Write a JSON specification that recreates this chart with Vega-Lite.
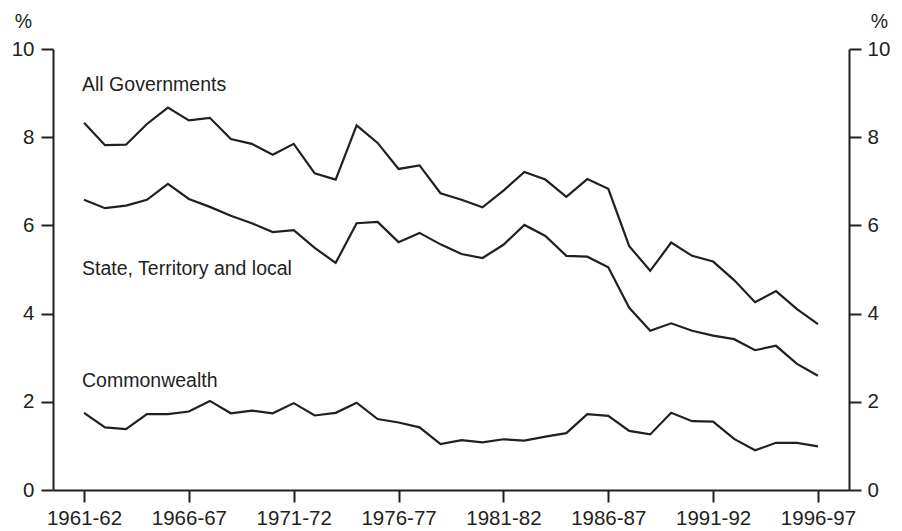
{
  "$schema": "https://vega.github.io/schema/vega-lite/v6.json",
  "width": 796,
  "height": 441,
  "autosize": {"type": "none"},
  "padding": {"left": 53, "top": 49, "right": 53, "bottom": 41},
  "background": "white",
  "config": {
    "view": {"stroke": null},
    "font": "Liberation Sans",
    "axis": {
      "domainColor": "#231f20",
      "domainWidth": 2,
      "tickColor": "#231f20",
      "tickWidth": 2,
      "tickSize": 12,
      "labelFont": "Liberation Sans",
      "labelFontSize": 20.5,
      "labelColor": "#231f20",
      "grid": false,
      "titleFont": "Liberation Sans",
      "titleFontSize": 19.5,
      "titleFontWeight": "normal",
      "titleColor": "#231f20"
    }
  },
  "datasets": {
    "series": [
      {"year": 1961, "series": "All Governments", "value": 8.33},
      {"year": 1962, "series": "All Governments", "value": 7.82},
      {"year": 1963, "series": "All Governments", "value": 7.83},
      {"year": 1964, "series": "All Governments", "value": 8.30},
      {"year": 1965, "series": "All Governments", "value": 8.67},
      {"year": 1966, "series": "All Governments", "value": 8.38},
      {"year": 1967, "series": "All Governments", "value": 8.44},
      {"year": 1968, "series": "All Governments", "value": 7.96},
      {"year": 1969, "series": "All Governments", "value": 7.85},
      {"year": 1970, "series": "All Governments", "value": 7.60},
      {"year": 1971, "series": "All Governments", "value": 7.85},
      {"year": 1972, "series": "All Governments", "value": 7.18},
      {"year": 1973, "series": "All Governments", "value": 7.04},
      {"year": 1974, "series": "All Governments", "value": 8.27},
      {"year": 1975, "series": "All Governments", "value": 7.87},
      {"year": 1976, "series": "All Governments", "value": 7.28},
      {"year": 1977, "series": "All Governments", "value": 7.36},
      {"year": 1978, "series": "All Governments", "value": 6.73},
      {"year": 1979, "series": "All Governments", "value": 6.58},
      {"year": 1980, "series": "All Governments", "value": 6.41},
      {"year": 1981, "series": "All Governments", "value": 6.79},
      {"year": 1982, "series": "All Governments", "value": 7.21},
      {"year": 1983, "series": "All Governments", "value": 7.04},
      {"year": 1984, "series": "All Governments", "value": 6.65},
      {"year": 1985, "series": "All Governments", "value": 7.05},
      {"year": 1986, "series": "All Governments", "value": 6.83},
      {"year": 1987, "series": "All Governments", "value": 5.53},
      {"year": 1988, "series": "All Governments", "value": 4.97},
      {"year": 1989, "series": "All Governments", "value": 5.61},
      {"year": 1990, "series": "All Governments", "value": 5.31},
      {"year": 1991, "series": "All Governments", "value": 5.18},
      {"year": 1992, "series": "All Governments", "value": 4.76},
      {"year": 1993, "series": "All Governments", "value": 4.26},
      {"year": 1994, "series": "All Governments", "value": 4.51},
      {"year": 1995, "series": "All Governments", "value": 4.10},
      {"year": 1996, "series": "All Governments", "value": 3.76},
      {"year": 1961, "series": "State, Territory and local", "value": 6.58},
      {"year": 1962, "series": "State, Territory and local", "value": 6.39},
      {"year": 1963, "series": "State, Territory and local", "value": 6.45},
      {"year": 1964, "series": "State, Territory and local", "value": 6.58},
      {"year": 1965, "series": "State, Territory and local", "value": 6.94},
      {"year": 1966, "series": "State, Territory and local", "value": 6.60},
      {"year": 1967, "series": "State, Territory and local", "value": 6.42},
      {"year": 1968, "series": "State, Territory and local", "value": 6.22},
      {"year": 1969, "series": "State, Territory and local", "value": 6.05},
      {"year": 1970, "series": "State, Territory and local", "value": 5.85},
      {"year": 1971, "series": "State, Territory and local", "value": 5.89},
      {"year": 1972, "series": "State, Territory and local", "value": 5.49},
      {"year": 1973, "series": "State, Territory and local", "value": 5.15},
      {"year": 1974, "series": "State, Territory and local", "value": 6.05},
      {"year": 1975, "series": "State, Territory and local", "value": 6.08},
      {"year": 1976, "series": "State, Territory and local", "value": 5.62},
      {"year": 1977, "series": "State, Territory and local", "value": 5.83},
      {"year": 1978, "series": "State, Territory and local", "value": 5.57},
      {"year": 1979, "series": "State, Territory and local", "value": 5.35},
      {"year": 1980, "series": "State, Territory and local", "value": 5.26},
      {"year": 1981, "series": "State, Territory and local", "value": 5.56},
      {"year": 1982, "series": "State, Territory and local", "value": 6.01},
      {"year": 1983, "series": "State, Territory and local", "value": 5.76},
      {"year": 1984, "series": "State, Territory and local", "value": 5.31},
      {"year": 1985, "series": "State, Territory and local", "value": 5.29},
      {"year": 1986, "series": "State, Territory and local", "value": 5.05},
      {"year": 1987, "series": "State, Territory and local", "value": 4.13},
      {"year": 1988, "series": "State, Territory and local", "value": 3.61},
      {"year": 1989, "series": "State, Territory and local", "value": 3.78},
      {"year": 1990, "series": "State, Territory and local", "value": 3.61},
      {"year": 1991, "series": "State, Territory and local", "value": 3.50},
      {"year": 1992, "series": "State, Territory and local", "value": 3.42},
      {"year": 1993, "series": "State, Territory and local", "value": 3.17},
      {"year": 1994, "series": "State, Territory and local", "value": 3.27},
      {"year": 1995, "series": "State, Territory and local", "value": 2.86},
      {"year": 1996, "series": "State, Territory and local", "value": 2.59},
      {"year": 1961, "series": "Commonwealth", "value": 1.75},
      {"year": 1962, "series": "Commonwealth", "value": 1.42},
      {"year": 1963, "series": "Commonwealth", "value": 1.38},
      {"year": 1964, "series": "Commonwealth", "value": 1.72},
      {"year": 1965, "series": "Commonwealth", "value": 1.72},
      {"year": 1966, "series": "Commonwealth", "value": 1.78},
      {"year": 1967, "series": "Commonwealth", "value": 2.02},
      {"year": 1968, "series": "Commonwealth", "value": 1.74},
      {"year": 1969, "series": "Commonwealth", "value": 1.80},
      {"year": 1970, "series": "Commonwealth", "value": 1.74},
      {"year": 1971, "series": "Commonwealth", "value": 1.97},
      {"year": 1972, "series": "Commonwealth", "value": 1.69},
      {"year": 1973, "series": "Commonwealth", "value": 1.75},
      {"year": 1974, "series": "Commonwealth", "value": 1.98},
      {"year": 1975, "series": "Commonwealth", "value": 1.61},
      {"year": 1976, "series": "Commonwealth", "value": 1.53},
      {"year": 1977, "series": "Commonwealth", "value": 1.42},
      {"year": 1978, "series": "Commonwealth", "value": 1.04},
      {"year": 1979, "series": "Commonwealth", "value": 1.13},
      {"year": 1980, "series": "Commonwealth", "value": 1.08},
      {"year": 1981, "series": "Commonwealth", "value": 1.15},
      {"year": 1982, "series": "Commonwealth", "value": 1.12},
      {"year": 1983, "series": "Commonwealth", "value": 1.21},
      {"year": 1984, "series": "Commonwealth", "value": 1.29},
      {"year": 1985, "series": "Commonwealth", "value": 1.72},
      {"year": 1986, "series": "Commonwealth", "value": 1.68},
      {"year": 1987, "series": "Commonwealth", "value": 1.34},
      {"year": 1988, "series": "Commonwealth", "value": 1.26},
      {"year": 1989, "series": "Commonwealth", "value": 1.75},
      {"year": 1990, "series": "Commonwealth", "value": 1.56},
      {"year": 1991, "series": "Commonwealth", "value": 1.55},
      {"year": 1992, "series": "Commonwealth", "value": 1.16},
      {"year": 1993, "series": "Commonwealth", "value": 0.90},
      {"year": 1994, "series": "Commonwealth", "value": 1.07},
      {"year": 1995, "series": "Commonwealth", "value": 1.07},
      {"year": 1996, "series": "Commonwealth", "value": 0.99}
    ],
    "labels": [
      {"label": "All Governments", "year": 1961, "value": 9.05},
      {"label": "State, Territory and local", "year": 1961, "value": 4.87},
      {"label": "Commonwealth", "year": 1961, "value": 2.34}
    ]
  },
  "layer": [
    {
      "data": {"name": "series"},
      "mark": {"type": "line", "color": "#231f20", "strokeWidth": 2.2, "strokeJoin": "miter"},
      "encoding": {
        "x": {
          "field": "year",
          "type": "quantitative",
          "scale": {"domain": [1959.52, 1997.48], "nice": false, "zero": false},
          "axis": {
            "values": [1961, 1966, 1971, 1976, 1981, 1986, 1991, 1996],
            "labelExpr": "datum.value + '-' + substring(toString(datum.value + 1), 2, 4)",
            "labelPadding": 6,
            "title": null
          }
        },
        "y": {
          "field": "value",
          "type": "quantitative",
          "scale": {"domain": [0, 10], "nice": false},
          "axis": {
            "values": [0, 2, 4, 6, 8, 10],
            "labelPadding": 7,
            "title": "%",
            "titleAngle": 0,
            "titleAlign": "center",
            "titleBaseline": "alphabetic",
            "titleX": -30,
            "titleY": -22
          }
        },
        "detail": {"field": "series"}
      }
    },
    {
      "data": {"name": "series"},
      "mark": {"type": "line", "opacity": 0},
      "encoding": {
        "x": {"field": "year", "type": "quantitative"},
        "y": {
          "field": "value",
          "type": "quantitative",
          "scale": {"domain": [0, 10], "nice": false},
          "axis": {
            "orient": "right",
            "values": [0, 2, 4, 6, 8, 10],
            "labelPadding": 6,
            "title": "%",
            "titleAngle": 0,
            "titleAlign": "center",
            "titleBaseline": "alphabetic",
            "titleX": 30,
            "titleY": -22
          }
        },
        "detail": {"field": "series"}
      }
    },
    {
      "data": {"name": "labels"},
      "mark": {"type": "text", "align": "left", "baseline": "alphabetic", "dx": -2, "fontSize": 19.5, "font": "Liberation Sans", "color": "#231f20"},
      "encoding": {
        "x": {"field": "year", "type": "quantitative"},
        "y": {"field": "value", "type": "quantitative", "scale": {"domain": [0, 10], "nice": false}, "axis": null},
        "text": {"field": "label"}
      }
    }
  ],
  "resolve": {"scale": {"y": "independent"}}
}
